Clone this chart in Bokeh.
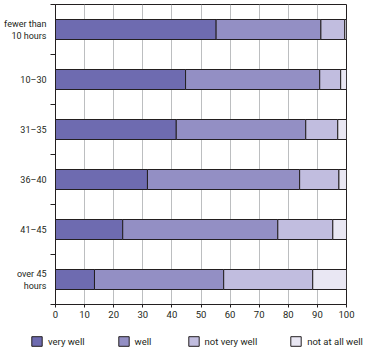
from bokeh.plotting import figure
from bokeh.layouts import column
from bokeh.models import Range1d, FixedTicker, Legend, LegendItem
from bokeh.embed import file_html
from bokeh.resources import INLINE

categories = ["fewer than\n10 hours", "10–30", "31–35", "36–40", "41–45", "over 45\nhours"]
very_well = [55.2, 44.7, 41.5, 31.6, 23.1, 13.4]
well = [36.0, 46.1, 44.5, 52.3, 53.3, 44.4]
not_very_well = [8.2, 7.2, 11.0, 13.5, 18.9, 30.6]
not_at_all_well = [0.6, 2.0, 3.0, 2.6, 4.7, 11.6]
series_names = ["very well", "well", "not very well", "not at all well"]
colors = ["#6e6bb0", "#938fc4", "#c1bddf", "#e9e7f3"]
x_ticks = [0, 10, 20, 30, 40, 50, 60, 70, 80, 90, 100]

FONT = "Roboto"
FS = "9.5px"
INK = "#231f20"

n = len(categories)
ypos = [n - i - 0.5 for i in range(n)]

p = figure(width=386, height=323, output_backend="svg", toolbar_location=None,
           x_range=Range1d(0, 100), y_range=Range1d(0, n),
           min_border_left=55, min_border_right=40, min_border_top=4, min_border_bottom=19)
p.frame_align = False

series = [very_well, well, not_very_well, not_at_all_well]
left = [0.0] * n
for vals, col in zip(series, colors):
    right = [l + v for l, v in zip(left, vals)]
    p.hbar(y=ypos, left=left, right=right, height=0.4, fill_color=col,
           line_color=INK, line_width=1)
    left = right

p.xgrid.ticker = FixedTicker(ticks=x_ticks)
p.xgrid.grid_line_color = "#bcbec0"
p.xgrid.grid_line_width = 1
p.ygrid.grid_line_color = None

p.xaxis.ticker = FixedTicker(ticks=x_ticks)
p.xaxis.axis_line_color = INK
p.xaxis.major_tick_line_color = INK
p.xaxis.major_tick_out = 3
p.xaxis.major_tick_in = 0
p.xaxis.minor_tick_line_color = None
p.xaxis.major_label_text_font = FONT
p.xaxis.major_label_text_font_size = FS
p.xaxis.major_label_text_color = INK
p.xaxis.major_label_standoff = 3

p.yaxis.ticker = FixedTicker(ticks=ypos, minor_ticks=list(range(n + 1)))
p.yaxis.major_label_overrides = {y: c for y, c in zip(ypos, categories)}
p.yaxis.axis_line_color = INK
p.yaxis.major_tick_line_color = None
p.yaxis.major_tick_out = 0
p.yaxis.major_tick_in = 0
p.yaxis.minor_tick_line_color = INK
p.yaxis.minor_tick_out = 5
p.yaxis.minor_tick_in = 0
p.yaxis.major_label_text_font = FONT
p.yaxis.major_label_text_font_size = "9px"
p.yaxis.major_label_text_color = INK
p.yaxis.major_label_standoff = 4

p.outline_line_color = INK
p.outline_line_width = 1

# legend strip
lg = figure(width=386, height=30, output_backend="svg", toolbar_location=None,
            x_range=Range1d(0, 1), y_range=Range1d(0, 1),
            x_axis_location=None, y_axis_location=None,
            min_border=0, outline_line_color=None)
lg.frame_align = False
lg.grid.visible = False
items = []
for nm, col in zip(series_names, colors):
    r = lg.hbar(y=[-5], left=[0], right=[1], height=1, fill_color=col,
                line_color=INK, line_width=1)
    items.append(LegendItem(label=nm, renderers=[r]))
legend = Legend(items=items, orientation="horizontal", location=(30, 6),
                glyph_width=13, glyph_height=12, label_height=12, label_standoff=5,
                spacing=32, padding=0, margin=0, border_line_color=None,
                background_fill_alpha=0, label_text_font=FONT,
                label_text_font_size=FS, label_text_color=INK)
lg.add_layout(legend, "center")

layout = column(p, lg, spacing=0)
open("out.html", "w").write(file_html(layout, INLINE))
